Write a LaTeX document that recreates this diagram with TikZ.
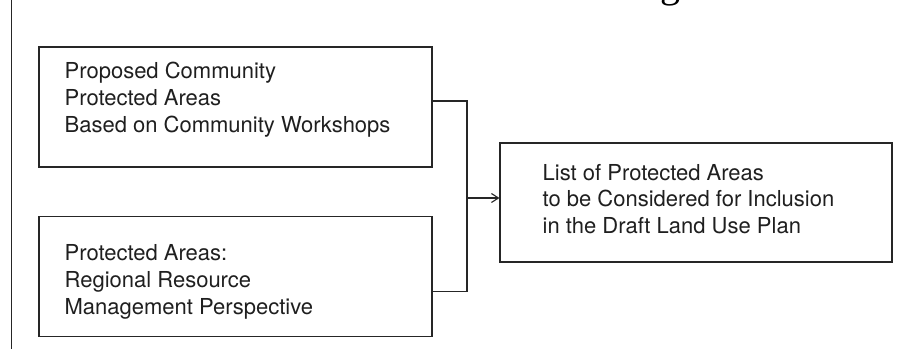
\documentclass[tikz,border=0pt]{standalone}
\usepackage{fontspec}
\setmainfont{TeX Gyre Heros}
\newfontfamily\titlefont{Liberation Serif}
\usetikzlibrary{positioning, arrows.meta, calc}

\tikzset{
  box/.style={rectangle, draw=black!85, line width=1.1pt, minimum width=393pt, minimum height=120pt, inner sep=0pt},
  boxtext/.style={anchor=west, align=left, inner sep=0pt, text=black!88, font=\fontsize{22}{26.8}\selectfont},
  link/.style={draw=black!85, line width=1.1pt},
}

\begin{document}
\begin{tikzpicture}[x=1pt, y=1pt]
		\useasboundingbox (0,0) rectangle (897,-349);
		% page remnants %
		\draw[black!85, line width=0.9pt] (11,0) -- (11,-349);
		\node[font=\titlefont\fontsize{40}{40}\selectfont, anchor=base, inner sep=0pt] (titlerest) at (670,3) {g};

		% nodes %
		\node[box] (community) at (235.5,-107) {};
		\node[box, below=48pt of community] (regional) {};
		\node[box, minimum width=392pt, minimum height=119pt] (listbox) at (696,-202.5) {};

		\node[boxtext, right=26pt of community.west, yshift=7.5pt] (communitytext) {Proposed Community\\Protected Areas\\Based on Community Workshops};
		\node[boxtext, right=26pt of regional.west, yshift=-6pt] (regionaltext) {Protected Areas:\\Regional Resource\\Management Perspective};
		\node[boxtext, right=43pt of listbox.west, yshift=3.5pt] (listtext) {List of Protected Areas\\to be Considered for Inclusion\\in the Draft Land Use Plan};

		% edges %
		\coordinate (joint) at (467,-198);
		\draw[link] ([yshift=6pt]community.east) -| (joint) |- ([yshift=-15pt]regional.east);
		\draw[link, -{Straight Barb[length=7pt,width=9pt]}] (joint) -- (joint -| listbox.west);
\end{tikzpicture}
\end{document}
